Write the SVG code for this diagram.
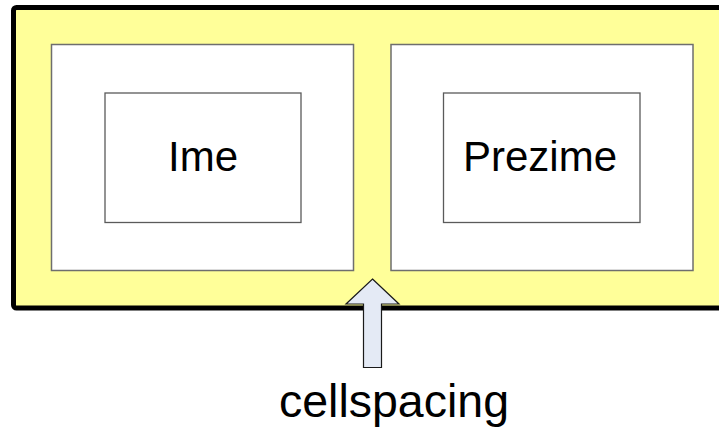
<svg xmlns="http://www.w3.org/2000/svg" width="719" height="430" viewBox="0 0 719 430">
<style>
.cell{fill:#ffffff;stroke:#6e6e6e;stroke-width:1.5}
.inner{fill:#ffffff;stroke:#5a5a5a;stroke-width:1.3}
.lbl{font-family:"Liberation Sans",Arial,sans-serif;fill:#000;text-anchor:middle}
</style>
<rect width="719" height="430" fill="#ffffff"/>
<g id="table">
<rect x="13.5" y="7.5" width="720" height="300.5" rx="3" fill="#ffff99" stroke="#000" stroke-width="5"/>
</g>
<g id="cell-ime">
<rect class="cell" x="51.5" y="44.5" width="302" height="226"/>
<rect class="inner" x="105" y="93" width="196" height="129.5"/>
<text class="lbl" x="203" y="171" font-size="42">Ime</text>
</g>
<g id="cell-prezime">
<rect class="cell" x="391" y="44.5" width="302" height="226"/>
<rect class="inner" x="443.5" y="93" width="196.5" height="129.5"/>
<text class="lbl" x="540" y="171" font-size="42">Prezime</text>
</g>
<g id="connectors">
<polygon points="372.5,279 399,304 381.5,304 381.5,367.5 363.5,367.5 363.5,304 346,304" fill="#e4eaf5" stroke="#1a1a1a" stroke-width="1.2" stroke-linejoin="miter"/>
</g>
<g id="label-cellspacing">
<text class="lbl" x="394" y="417" font-size="46.5">cellspacing</text>
</g>
</svg>
